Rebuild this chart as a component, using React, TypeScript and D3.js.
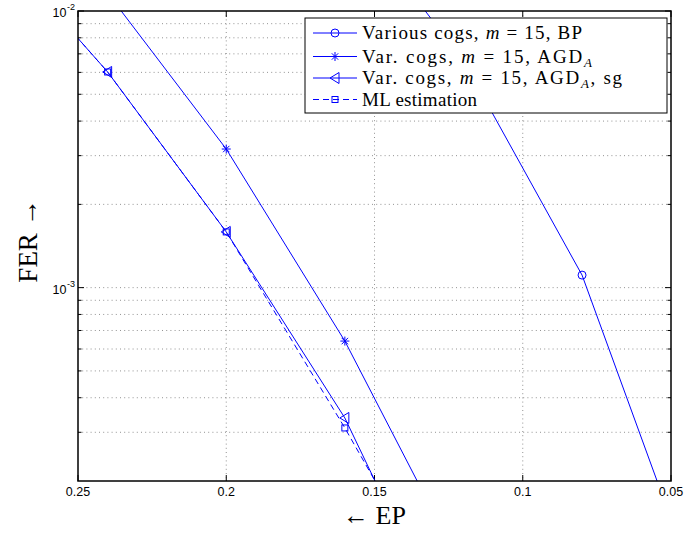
import React from "react";
import * as d3 from "d3";

// ---- data ----
const bpEP = [0.16, 0.12, 0.08, 0.04];
const bpFER = [2.4e-2, 6.6e-3, 1.11e-3, 7.4e-5];
const agdEP = [0.24, 0.2, 0.16, 0.12];
const agdFER = [1.16e-2, 3.17e-3, 6.41e-4, 9.5e-5];
const sgEP = [0.28, 0.24, 0.2, 0.16, 0.12];
const sgFER = [1.84e-2, 6.02e-3, 1.59e-3, 3.38e-4, 4.3e-5];
const mlEP = [0.28, 0.24, 0.2, 0.16, 0.12];
const mlFER = [1.84e-2, 6.02e-3, 1.59e-3, 3.11e-4, 5.5e-5];

const xTicks = [0.25, 0.2, 0.15, 0.1, 0.05];
const xTickLabels = ["0.25", "0.2", "0.15", "0.1", "0.05"];
const yMajor = [1e-3, 1e-2];
const yMajorExp = ["-3", "-2"];
const yMinor = [3e-4, 4e-4, 5e-4, 6e-4, 7e-4, 8e-4, 9e-4, 2e-3, 3e-3, 4e-3, 5e-3, 6e-3, 7e-3, 8e-3, 9e-3];

const W = 686, H = 556;
const L = 78, R = 671, T = 11, B = 481;
const BLUE = "#0000ff";

const x = d3.scaleLinear().domain([0.25, 0.05]).range([L, R]);
const y = d3.scaleLog().domain([2e-4, 1e-2]).range([B, T]);

type Pt = [number, number];
const zip = (a: number[], b: number[]): Pt[] => a.map((v, i) => [v, b[i]]);
const line = d3.line<Pt>().x(d => x(d[0])).y(d => y(d[1]));

function Marker({ kind, cx, cy }: { kind: string; cx: number; cy: number }) {
  const s = { fill: "none", stroke: BLUE, strokeWidth: 1 };
  if (kind === "circle") return <circle cx={cx} cy={cy} r={4} {...s} />;
  if (kind === "square") return <rect x={cx - 3} y={cy - 3} width={6} height={6} {...s} />;
  if (kind === "tri") {
    const p = `${cx - 5},${cy} ${cx + 4},${cy - 5.5} ${cx + 4},${cy + 5.5}`;
    return <polygon points={p} {...s} />;
  }
  const r = 4.5, d = 3.2;
  return (
    <g {...s}>
      <line x1={cx - r} y1={cy} x2={cx + r} y2={cy} />
      <line x1={cx} y1={cy - r} x2={cx} y2={cy + r} />
      <line x1={cx - d} y1={cy - d} x2={cx + d} y2={cy + d} />
      <line x1={cx - d} y1={cy + d} x2={cx + d} y2={cy - d} />
    </g>
  );
}

const series = [
  { ep: bpEP, fer: bpFER, kind: "circle", dash: undefined as string | undefined },
  { ep: agdEP, fer: agdFER, kind: "star", dash: undefined },
  { ep: sgEP, fer: sgFER, kind: "tri", dash: undefined },
  { ep: mlEP, fer: mlFER, kind: "square", dash: "6,4" },
];

const legendLabels: React.ReactNode[] = [
  <>Various cogs, <tspan fontStyle="italic">m</tspan> = 15, BP</>,
  <>Var. cogs, <tspan fontStyle="italic">m</tspan> = 15, AGD<tspan fontSize="13" fontStyle="italic" dy="4">A</tspan></>,
  <>Var. cogs, <tspan fontStyle="italic">m</tspan> = 15, AGD<tspan fontSize="13" fontStyle="italic" dy="4">A</tspan><tspan dy="-4">, sg</tspan></>,
  <>ML estimation</>,
];
const legendTextLen = [220, 230, 260, 115];
const legendRowY = [33, 56.5, 78, 99.5];

export default function App() {
  const grid = { stroke: "#777", strokeWidth: 0.8, strokeDasharray: "1,3.2" };
  const sans = "Liberation Sans, Arial, sans-serif";
  const serif = "Liberation Serif, Times New Roman, serif";
  return (
    <svg width={W} height={H} style={{ position: "absolute", left: 0, top: 0, background: "#fff" }}>
      <defs>
        <clipPath id="plot">
          <rect x={L} y={T} width={R - L} height={B - T} />
        </clipPath>
      </defs>
      <rect x={0} y={0} width={W} height={H} fill="#fff" />
      {xTicks.slice(1, -1).map(t => (
        <line key={"gx" + t} x1={x(t)} x2={x(t)} y1={T} y2={B} {...grid} />
      ))}
      {[...yMinor, 1e-3].map(t => (
        <line key={"gy" + t} x1={L} x2={R} y1={y(t)} y2={y(t)} {...grid} />
      ))}
      {xTicks.map(t => (
        <g key={"tx" + t} stroke="#000" strokeWidth={1}>
          <line x1={x(t)} x2={x(t)} y1={B} y2={B - 6} />
          <line x1={x(t)} x2={x(t)} y1={T} y2={T + 6} />
        </g>
      ))}
      {yMinor.map(t => (
        <g key={"tym" + t} stroke="#000" strokeWidth={1}>
          <line x1={L} x2={L + 3.5} y1={y(t)} y2={y(t)} />
          <line x1={R} x2={R - 3.5} y1={y(t)} y2={y(t)} />
        </g>
      ))}
      {yMajor.map(t => (
        <g key={"tyM" + t} stroke="#000" strokeWidth={1}>
          <line x1={L} x2={L + 6} y1={y(t)} y2={y(t)} />
          <line x1={R} x2={R - 6} y1={y(t)} y2={y(t)} />
        </g>
      ))}
      <g clipPath="url(#plot)">
        {series.map((s, i) => (
          <g key={"s" + i}>
            <path d={line(zip(s.ep, s.fer)) || ""} fill="none" stroke={BLUE} strokeWidth={1} strokeDasharray={s.dash} />
            {zip(s.ep, s.fer).map((p, j) => (
              <Marker key={j} kind={s.kind} cx={x(p[0])} cy={y(p[1])} />
            ))}
          </g>
        ))}
      </g>
      <rect x={L} y={T} width={R - L} height={B - T} fill="none" stroke="#000" strokeWidth={1.5} />
      {xTicks.map((t, i) => (
        <text key={"xl" + t} x={x(t)} y={496} textAnchor="middle" fontFamily={sans} fontSize={12.5}>
          {xTickLabels[i]}
        </text>
      ))}
      {yMajor.map((t, i) => (
        <text key={"yl" + t} x={75} y={y(t) + 6} textAnchor="end" fontFamily={sans} fontSize={12.5}>
          10
          <tspan fontSize={9} dx={0.5} dy={-7}>{yMajorExp[i]}</tspan>
        </text>
      ))}
      <text x={(L + R) / 2} y={524} textAnchor="middle" fontFamily={serif} fontSize={26}>
        ← EP
      </text>
      <text transform={`translate(37, 241) rotate(-90)`} textAnchor="middle" fontFamily={serif} fontSize={27}>
        FER →
      </text>
      <rect x={305} y={18} width={362} height={95} fill="#fff" stroke="#000" strokeWidth={1} />
      {legendLabels.map((lab, i) => {
        const ly = legendRowY[i];
        const s = series[i];
        return (
          <g key={"lg" + i}>
            <line x1={313} x2={357} y1={ly} y2={ly} stroke={BLUE} strokeWidth={1} strokeDasharray={s.dash} />
            <Marker kind={s.kind} cx={335} cy={ly} />
            <text x={362} y={ly + 6} fontFamily={serif} fontSize={19} textLength={legendTextLen[i]} lengthAdjust="spacing">
              {lab}
            </text>
          </g>
        );
      })}
    </svg>
  );
}
